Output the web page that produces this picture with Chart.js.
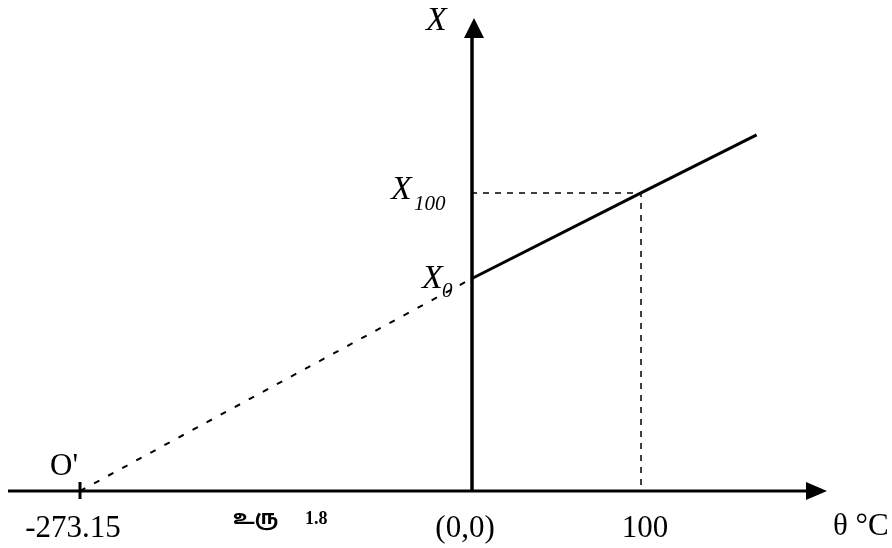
<!DOCTYPE html>
<html lang="ta">
<head>
<meta charset="UTF-8">
<title>X vs θ °C</title>
<style>
  body {
    margin: 0;
    background-color: #fff;
  }
  .chart-box {
    width: 892px;
    height: 548px;
    position: relative;
  }
</style>
<script src="https://cdn.jsdelivr.net/npm/chart.js"></script>
</head>
<body>

<div class="chart-box">
  <canvas id="thermoChart"></canvas>
</div>

<script>
// values (x in °C, y in units of X0)
var extrapTemps = [-273.15, 0];
var extrapX = [0, 1.0];
var lineTemps = [0, 100, 168];
var lineX = [1.0, 1.406, 1.68];
var tickValues = [-273.15, 0, 100];
var tickLabels = ['-273.15', '(0,0)', '100'];
var axisTitle = 'θ °C';
var captionWord = 'உரு';
var captionNum = '1.8';

// the figure draws the negative side squeezed, not to scale
var LEFT_SQUEEZE = 0.842;

class SqueezedLinearScale extends Chart.LinearScale {
  getPixelForValue(value) {
    return super.getPixelForValue(value < 0 ? value * LEFT_SQUEEZE : value);
  }
}
SqueezedLinearScale.id = 'squeezedLinear';
SqueezedLinearScale.defaults = Chart.LinearScale.defaults;
Chart.register(SqueezedLinearScale);

function pts(xs, ys) {
  return xs.map(function (x, i) { return {x: x, y: ys[i]}; });
}

var serif = '"Liberation Serif", "Times New Roman", serif';

// axes, arrows and all texts
var figurePlugin = {
  id: 'figure',
  afterDatasetsDraw: function (chart) {
    var ctx = chart.ctx;
    var xs = chart.scales.x, ys = chart.scales.y;
    var area = chart.chartArea;
    var x0 = xs.getPixelForValue(0);
    var y0 = ys.getPixelForValue(0);
    ctx.save();
    ctx.strokeStyle = '#000';
    ctx.fillStyle = '#000';
    ctx.lineWidth = 3;

    // horizontal axis + arrow
    ctx.beginPath();
    ctx.moveTo(area.left, y0);
    ctx.lineTo(area.right - 18, y0);
    ctx.stroke();
    ctx.beginPath();
    ctx.moveTo(area.right, y0);
    ctx.lineTo(area.right - 21, y0 - 9);
    ctx.lineTo(area.right - 21, y0 + 9);
    ctx.closePath();
    ctx.fill();

    // vertical axis + arrow
    ctx.lineWidth = 3.5;
    ctx.beginPath();
    ctx.moveTo(x0 + 1, y0);
    ctx.lineTo(x0 + 1, area.top + 18);
    ctx.stroke();
    ctx.beginPath();
    ctx.moveTo(x0 + 3, area.top);
    ctx.lineTo(x0 - 7, area.top + 20);
    ctx.lineTo(x0 + 13, area.top + 20);
    ctx.closePath();
    ctx.fill();

    // tick at O'
    var xo = xs.getPixelForValue(extrapTemps[0]);
    ctx.lineWidth = 3;
    ctx.beginPath();
    ctx.moveTo(xo, y0 - 9);
    ctx.lineTo(xo, y0 + 8);
    ctx.stroke();

    // bottom labels
    ctx.font = '31px ' + serif;
    ctx.textAlign = 'center';
    ctx.textBaseline = 'alphabetic';
    var shift = [-7, -6, 4];
    tickValues.forEach(function (v, i) {
      ctx.fillText(tickLabels[i], xs.getPixelForValue(v) + shift[i], y0 + 46);
    });
    ctx.textAlign = 'left';
    ctx.fillText(axisTitle, area.right + 6, y0 + 44);
    ctx.fillText("O'", xo - 30, y0 - 16);

    // figure caption
    ctx.font = 'bold 20px "Noto Sans Tamil", "Latha", "DejaVu Sans", sans-serif';
    ctx.fillText(captionWord, 233, y0 + 33);
    ctx.font = 'bold 18px ' + serif;
    ctx.fillText(captionNum, 305, y0 + 33);

    // y labels
    ctx.font = 'italic 34px ' + serif;
    ctx.fillText('X', x0 - 45, area.top + 12);
    var y100 = ys.getPixelForValue(lineX[1]);
    var yX0 = ys.getPixelForValue(lineX[0]);
    ctx.fillText('X', x0 - 80, y100 + 6);
    ctx.fillText('X', x0 - 49, yX0 + 9);
    ctx.font = 'italic 21px ' + serif;
    ctx.fillText('100', x0 - 57, y100 + 17);
    ctx.fillText('0', x0 - 29, yX0 + 18);
    ctx.restore();
  }
};

new Chart(document.getElementById('thermoChart'), {
  type: 'line',
  data: {
    datasets: [{
      label: 'extrapolation',
      data: pts(extrapTemps, extrapX),
      borderColor: '#000',
      borderWidth: 2,
      borderDash: [6, 10],
      pointRadius: 0
    }, {
      label: 'X',
      data: pts(lineTemps, lineX),
      borderColor: '#000',
      borderWidth: 3,
      pointRadius: 0
    }, {
      label: 'X100 guide',
      data: [
        {x: lineTemps[0], y: lineX[1]},
        {x: lineTemps[1], y: lineX[1]},
        {x: lineTemps[1], y: 0}
      ],
      borderColor: '#000',
      borderWidth: 1.5,
      borderDash: [6, 6],
      pointRadius: 0
    }]
  },
  options: {
    responsive: true,
    maintainAspectRatio: false,
    animation: false,
    layout: {
      padding: {left: 8, right: 65, top: 18, bottom: 57}
    },
    scales: {
      x: {
        type: 'squeezedLinear',
        display: false,
        bounds: 'data',
        min: -272.35,
        max: 209.4
      },
      y: {
        type: 'linear',
        display: false,
        bounds: 'data',
        min: 0,
        max: 2.231
      }
    },
    plugins: {
      legend: {display: false},
      tooltip: {enabled: false}
    }
  },
  plugins: [figurePlugin]
});
</script>

</body>
</html>
